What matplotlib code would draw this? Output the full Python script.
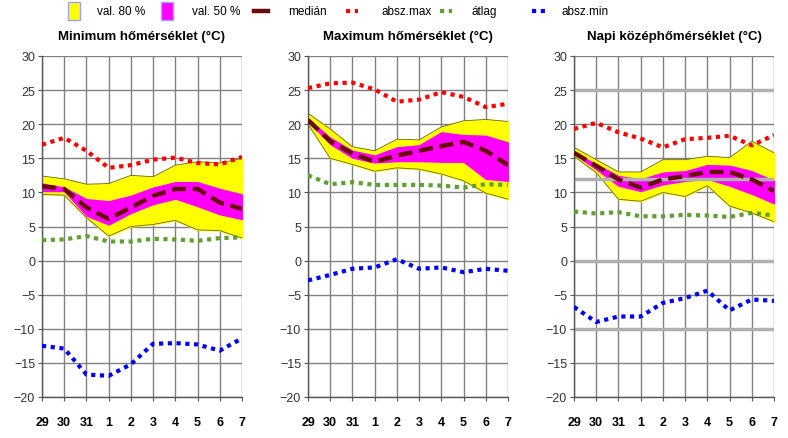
import matplotlib.pyplot as plt
from matplotlib.patches import Rectangle
from matplotlib.lines import Line2D

# x axis: days
days = ['29', '30', '31', '1', '2', '3', '4', '5', '6', '7']

# --- Minimum homerseklet ---
min_p80_hi = [12.4, 12.0, 11.2, 11.3, 12.5, 12.3, 14.0, 14.5, 14.3, 15.0]
min_p80_lo = [9.7, 9.6, 6.3, 3.6, 5.0, 5.3, 5.9, 4.5, 4.4, 3.3]
min_p50_hi = [11.3, 10.7, 9.0, 8.7, 9.5, 10.7, 11.5, 11.5, 10.5, 9.7]
min_p50_lo = [10.2, 10.2, 6.6, 5.3, 7.0, 8.3, 9.1, 8.0, 6.8, 6.1]
min_median = [10.9, 10.5, 7.8, 6.1, 7.8, 9.5, 10.5, 10.5, 8.5, 7.6]
min_absmax = [17.0, 18.0, 16.1, 13.6, 14.0, 14.8, 15.1, 14.3, 14.1, 15.2]
min_avg = [3.0, 3.1, 3.6, 2.8, 2.8, 3.2, 3.1, 2.9, 3.3, 3.4]
min_absmin = [-12.5, -12.9, -16.7, -16.9, -15.2, -12.2, -12.1, -12.3, -13.2, -11.4]

# --- Maximum homerseklet ---
max_p80_hi = [21.6, 19.3, 16.7, 16.1, 17.8, 17.7, 19.6, 20.5, 20.7, 20.4]
max_p80_lo = [20.0, 15.0, 14.1, 13.1, 13.6, 13.4, 12.7, 11.7, 9.9, 9.0]
max_p50_hi = [20.8, 18.0, 16.1, 15.4, 16.6, 16.9, 18.8, 18.4, 18.3, 17.3]
max_p50_lo = [20.5, 17.1, 15.1, 14.4, 14.6, 14.6, 14.5, 14.5, 12.0, 11.7]
max_median = [20.6, 17.5, 15.7, 14.5, 15.4, 16.1, 16.8, 17.4, 16.1, 14.0]
max_absmax = [25.3, 26.0, 26.1, 25.1, 23.3, 23.6, 24.7, 24.0, 22.5, 23.0]
max_avg = [12.5, 11.2, 11.5, 11.1, 11.1, 11.1, 11.0, 10.7, 11.2, 11.1]
max_absmin = [-2.9, -2.1, -1.2, -1.0, 0.2, -1.2, -1.0, -1.7, -1.2, -1.5]

# --- Napi kozephomerseklet ---
mean_p80_hi = [16.6, 14.8, 13.0, 13.0, 14.8, 14.8, 15.3, 15.1, 17.5, 15.8]
mean_p80_lo = [15.3, 12.9, 9.0, 8.7, 10.0, 9.4, 11.0, 8.0, 7.0, 5.7]
mean_p50_hi = [15.9, 14.1, 12.4, 11.9, 12.9, 13.1, 14.0, 13.9, 13.1, 11.7]
mean_p50_lo = [15.7, 13.4, 11.0, 10.2, 11.2, 11.7, 12.0, 11.0, 9.8, 8.4]
mean_median = [15.8, 13.9, 11.9, 10.7, 11.9, 12.4, 13.0, 13.0, 11.9, 10.2]
mean_absmax = [19.3, 20.2, 18.8, 17.9, 16.6, 17.8, 18.0, 18.3, 16.9, 18.4]
mean_avg = [7.2, 6.9, 7.1, 6.5, 6.5, 6.7, 6.6, 6.4, 7.0, 6.6]
mean_absmin = [-6.8, -9.0, -8.2, -8.2, -6.2, -5.5, -4.4, -7.3, -5.7, -5.9]
mean_ref_lines = [25, 12, 0, -10]

panels = [
    ('Minimum hőmérséklet (°C)', min_p80_hi, min_p80_lo, min_p50_hi, min_p50_lo,
     min_median, min_absmax, min_avg, min_absmin),
    ('Maximum hőmérséklet (°C)', max_p80_hi, max_p80_lo, max_p50_hi, max_p50_lo,
     max_median, max_absmax, max_avg, max_absmin),
    ('Napi középhőmérséklet (°C)', mean_p80_hi, mean_p80_lo, mean_p50_hi, mean_p50_lo,
     mean_median, mean_absmax, mean_avg, mean_absmin),
]

plt.rcParams['font.family'] = ['Liberation Sans', 'DejaVu Sans']

fig = plt.figure(figsize=(7.88, 4.39), dpi=100)
lefts = [42 / 788, 308 / 788, 574 / 788]
x = list(range(len(days)))
dots = (0, (1, 1.1))

for i, (title, p80h, p80l, p50h, p50l, med, amax, avg, amin) in enumerate(panels):
    ax = fig.add_axes([lefts[i], 41 / 439, 200 / 788, 341 / 439])
    ax.set_xlim(0, len(days) - 1)
    ax.set_ylim(-20, 30)
    ax.set_xticks(x)
    ax.set_xticklabels(days, fontweight='bold', fontsize=9)
    ax.set_yticks(range(-20, 31, 5))
    ax.tick_params(axis='y', labelsize=9, labelcolor='#333333', length=3, color='#555555', pad=2)
    ax.tick_params(axis='x', length=3, color='#555555', pad=11)
    ax.grid(True, color='#808080', lw=1)
    ax.set_axisbelow(True)
    for s in ['top', 'right']:
        ax.spines[s].set_visible(False)
    for s in ['left', 'bottom']:
        ax.spines[s].set_color('#555555')
        ax.spines[s].set_linewidth(1)

    if i == 2:
        for yv in mean_ref_lines:
            ax.axhline(yv, color='#b0b0b0', lw=2.5, zorder=2.5 if yv == 12 else 1)

    ax.fill_between(x, p80l, p80h, color='#ffff00', zorder=2)
    ax.plot(x, p80h, color='#666633', lw=0.6, zorder=2)
    ax.plot(x, p80l, color='#666633', lw=0.6, zorder=2)
    ax.fill_between(x, p50l, p50h, color='#ff00ff', zorder=2.2)
    ax.plot(x, med, color='#6b0a0a', lw=3.2, linestyle=(0, (3.2, 1.5)), zorder=3)
    ax.plot(x, amax, color='#ff0000', lw=3, linestyle=dots, zorder=3)
    ax.plot(x, avg, color='#5f9f2f', lw=3, linestyle=dots, zorder=3)
    ax.plot(x, amin, color='#0000ff', lw=3, linestyle=dots, zorder=3)
    ax.set_title(title, fontsize=9.5, fontweight='bold', pad=12)

# legend across the top
fy = 1 - 12 / 439
def fx(px):
    return px / 788

fig.patches.append(Rectangle((fx(68), 1 - 21 / 439), fx(12), 18 / 439, transform=fig.transFigure,
                             facecolor='#ffff00', edgecolor='#a0a0ff', lw=1))
fig.text(fx(97), fy, 'val. 80 %', fontsize=8.5, va='center')
fig.patches.append(Rectangle((fx(161), 1 - 21 / 439), fx(12), 18 / 439, transform=fig.transFigure,
                             facecolor='#ff00ff', edgecolor='#a0a0ff', lw=1))
fig.text(fx(192), fy, 'val. 50 %', fontsize=8.5, va='center')
fig.lines.append(Line2D([fx(254), fx(268)], [fy, fy], transform=fig.transFigure,
                        color='#6b0a0a', lw=3.2))
fig.text(fx(288), fy, 'medián', fontsize=8.5, va='center')
fig.lines.append(Line2D([fx(346), fx(358)], [fy, fy], transform=fig.transFigure,
                        color='#ff0000', lw=3, linestyle=dots))
fig.text(fx(382), fy, 'absz.max', fontsize=8.5, va='center')
fig.lines.append(Line2D([fx(440), fx(452)], [fy, fy], transform=fig.transFigure,
                        color='#5f9f2f', lw=3, linestyle=dots))
fig.text(fx(472), fy, 'átlag', fontsize=8.5, va='center')
fig.lines.append(Line2D([fx(532), fx(545)], [fy, fy], transform=fig.transFigure,
                        color='#0000ff', lw=3, linestyle=dots))
fig.text(fx(562), fy, 'absz.min', fontsize=8.5, va='center')

fig.savefig('out.png', dpi=100)
